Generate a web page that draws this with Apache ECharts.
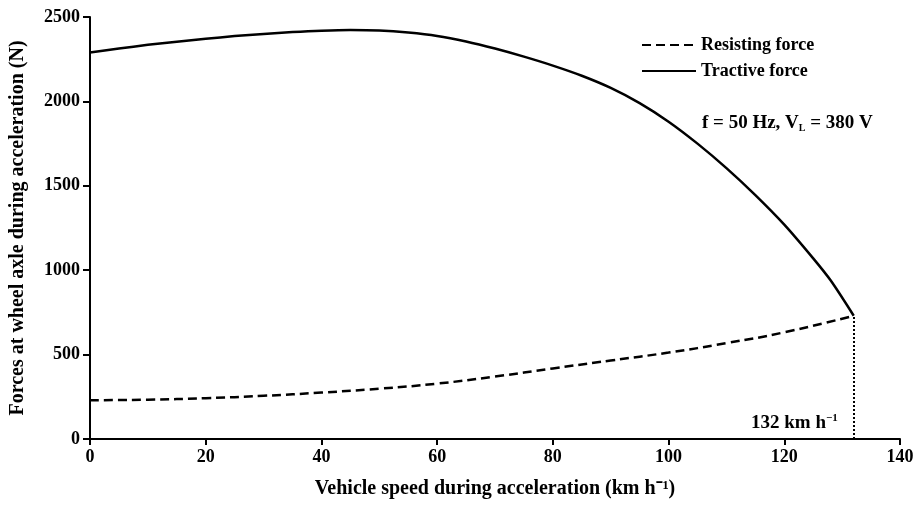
<!DOCTYPE html>
<html>
<head>
<meta charset="utf-8">
<script src="https://cdn.jsdelivr.net/npm/echarts@6/dist/echarts.min.js"></script>
<style>
html, body { margin: 0; padding: 0; background: #fff; }
#chart { width: 920px; height: 506px; }
</style>
</head>
<body>
<div id="chart"></div>
<script>
// speed (km/h) -> force (N)
var tractiveSpeed = [0, 5, 10, 15, 20, 25, 30, 35, 40, 45, 50, 55, 60, 65, 70, 75, 80, 85, 90, 95, 100, 105, 110, 115, 120, 125, 128, 132];
var tractiveForce = [2290, 2313, 2335, 2354, 2371, 2387, 2400, 2411, 2419, 2423, 2420, 2408, 2388, 2355, 2313, 2265, 2212, 2152, 2080, 1990, 1880, 1750, 1605, 1445, 1270, 1070, 940, 730];
var resistSpeed = [0, 10, 20, 30, 40, 50, 60, 70, 80, 90, 100, 110, 120, 132];
var resistForce = [230, 233, 242, 256, 275, 298, 328, 370, 418, 465, 512, 568, 632, 730];
var cutSpeed = 132;
var cutForce = 730;

var serif = "Liberation Serif";

function pairs(xs, ys) {
  return xs.map(function (x, i) { return [x, ys[i]]; });
}

var chart = echarts.init(document.getElementById("chart"));
chart.setOption({
  animation: false,
  backgroundColor: "#fff",
  grid: { left: 88, right: 20, top: 17, bottom: 67 },
  legend: {
    orient: "vertical",
    left: 636,
    top: 31,
    itemWidth: 54,
    itemHeight: 14,
    itemGap: 8,
    itemStyle: { opacity: 0 },
    textStyle: { fontFamily: serif, fontSize: 18, color: "#000", fontWeight: "bold" },
    data: ["Resisting force", "Tractive force"]
  },
  xAxis: {
    type: "value",
    min: 0,
    max: 140,
    interval: 20,
    name: "Vehicle speed during acceleration (km h\u207B\u00B9)",
    nameLocation: "middle",
    nameGap: 40,
    nameTextStyle: { fontFamily: serif, fontSize: 20, color: "#000", fontWeight: "bold" },
    axisLine: { lineStyle: { color: "#000", width: 2 } },
    axisTick: { length: 6, lineStyle: { color: "#000", width: 2 } },
    axisLabel: { fontFamily: serif, fontSize: 18, color: "#000", fontWeight: "bold", margin: 9, formatter: function (v) { return String(v); } },
    splitLine: { show: false }
  },
  yAxis: {
    type: "value",
    min: 0,
    max: 2500,
    interval: 500,
    name: "Forces at wheel axle during acceleration (N)",
    nameLocation: "middle",
    nameGap: 62,
    nameTextStyle: { fontFamily: serif, fontSize: 20, color: "#000", fontWeight: "bold" },
    axisLine: { show: true, lineStyle: { color: "#000", width: 2 } },
    axisTick: { show: true, length: 7, lineStyle: { color: "#000", width: 2 } },
    axisLabel: { fontFamily: serif, fontSize: 18, color: "#000", fontWeight: "bold", margin: 10, formatter: function (v) { return String(v); } },
    splitLine: { show: false }
  },
  series: [
    {
      name: "Resisting force",
      type: "line",
      smooth: true,
      symbol: "none",
      data: pairs(resistSpeed, resistForce),
      lineStyle: { color: "#000", width: 2.5, type: [9, 5] },
      itemStyle: { color: "#000" },
      markLine: {
        silent: true,
        symbol: "none",
        label: { show: false },
        lineStyle: { color: "#000", width: 2, type: [2, 2] },
        data: [[{ coord: [cutSpeed, 0] }, { coord: [cutSpeed, cutForce] }]]
      }
    },
    {
      name: "Tractive force",
      type: "line",
      smooth: 0.3,
      symbol: "none",
      data: pairs(tractiveSpeed, tractiveForce),
      lineStyle: { color: "#000", width: 2.5 },
      itemStyle: { color: "#000" }
    }
  ],
  graphic: [
    {
      type: "text",
      left: 702,
      top: 114,
      style: {
        text: "f = 50 Hz, V{sub|L} = 380 V",
        fontFamily: serif,
        fontSize: 19,
        fontWeight: "bold",
        fill: "#000",
        rich: {
          sub: { fontSize: 10, fontFamily: serif, fontWeight: "bold", padding: [9, 0, 0, 0] }
        }
      }
    },
    {
      type: "text",
      left: 751,
      top: 413,
      style: {
        text: "132 km h{sup|\u22121}",
        fontFamily: serif,
        fontSize: 19,
        fontWeight: "bold",
        fill: "#000",
        rich: {
          sup: { fontSize: 11, fontFamily: serif, fontWeight: "bold", padding: [0, 0, 10, 0] }
        }
      }
    }
  ]
});
</script>
</body>
</html>
